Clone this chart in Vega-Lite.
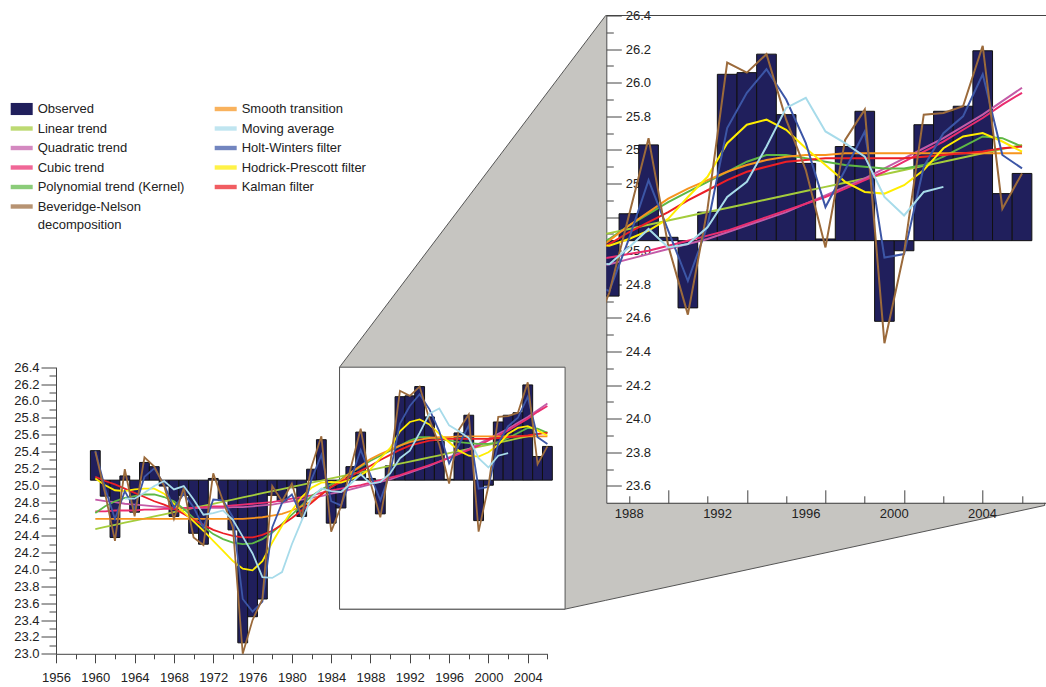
{
  "$schema": "https://vega.github.io/schema/vega-lite/v6.json",
  "background": "white",
  "padding": {"left": 10, "top": 9.5, "right": 0, "bottom": 0},
  "autosize": {"type": "pad"},
  "config": {
    "view": {"stroke": null},
    "font": "Liberation Sans",
    "axis": {"grid": false, "labelFont": "Liberation Sans", "labelFontSize": 13, "labelColor": "#222", "domainColor": "#444", "tickColor": "#444", "labelFlush": false, "labelOverlap": false}
  },
  "datasets": {
    "obs": [
      {"year":1960,"Observed":25.41,"Linear trend":24.48,"Quadratic trend":24.83,"Cubic trend":24.69,"Polynomial trend (Kernel)":24.67,"Beveridge-Nelson decomposition":25.40,"Smooth transition":24.60,"Holt-Winters filter":25.41,"Hodrick-Prescott filter":25.08,"Kalman filter":25.10},
      {"year":1961,"Observed":24.87,"Linear trend":24.505,"Quadratic trend":24.81,"Cubic trend":24.69,"Polynomial trend (Kernel)":24.75,"Beveridge-Nelson decomposition":24.90,"Smooth transition":24.60,"Holt-Winters filter":24.96,"Hodrick-Prescott filter":25.00,"Kalman filter":25.05},
      {"year":1962,"Observed":24.38,"Linear trend":24.53,"Quadratic trend":24.80,"Cubic trend":24.70,"Polynomial trend (Kernel)":24.81,"Beveridge-Nelson decomposition":24.34,"Smooth transition":24.60,"Holt-Winters filter":24.60,"Hodrick-Prescott filter":24.94,"Kalman filter":25.01},
      {"year":1963,"Observed":25.11,"Linear trend":24.555,"Quadratic trend":24.78,"Cubic trend":24.70,"Polynomial trend (Kernel)":24.85,"Beveridge-Nelson decomposition":25.19,"Smooth transition":24.60,"Moving average":24.84,"Holt-Winters filter":24.93,"Hodrick-Prescott filter":24.93,"Kalman filter":24.96},
      {"year":1964,"Observed":24.68,"Linear trend":24.58,"Quadratic trend":24.77,"Cubic trend":24.70,"Polynomial trend (Kernel)":24.87,"Beveridge-Nelson decomposition":24.63,"Smooth transition":24.60,"Moving average":24.84,"Holt-Winters filter":24.72,"Hodrick-Prescott filter":24.95,"Kalman filter":24.91},
      {"year":1965,"Observed":25.27,"Linear trend":24.605,"Quadratic trend":24.76,"Cubic trend":24.71,"Polynomial trend (Kernel)":24.89,"Beveridge-Nelson decomposition":25.33,"Smooth transition":24.60,"Moving average":24.91,"Holt-Winters filter":25.10,"Hodrick-Prescott filter":24.96,"Kalman filter":24.86},
      {"year":1966,"Observed":25.22,"Linear trend":24.63,"Quadratic trend":24.75,"Cubic trend":24.71,"Polynomial trend (Kernel)":24.89,"Beveridge-Nelson decomposition":25.22,"Smooth transition":24.60,"Moving average":24.99,"Holt-Winters filter":25.20,"Hodrick-Prescott filter":24.96,"Kalman filter":24.81},
      {"year":1967,"Observed":24.99,"Linear trend":24.655,"Quadratic trend":24.74,"Cubic trend":24.72,"Polynomial trend (Kernel)":24.86,"Beveridge-Nelson decomposition":24.99,"Smooth transition":24.60,"Moving average":25.05,"Holt-Winters filter":25.01,"Hodrick-Prescott filter":24.90,"Kalman filter":24.77},
      {"year":1968,"Observed":24.63,"Linear trend":24.68,"Quadratic trend":24.73,"Cubic trend":24.72,"Polynomial trend (Kernel)":24.81,"Beveridge-Nelson decomposition":24.60,"Smooth transition":24.60,"Moving average":24.95,"Holt-Winters filter":24.73,"Hodrick-Prescott filter":24.78,"Kalman filter":24.72},
      {"year":1969,"Observed":24.88,"Linear trend":24.705,"Quadratic trend":24.73,"Cubic trend":24.73,"Polynomial trend (Kernel)":24.72,"Beveridge-Nelson decomposition":24.97,"Smooth transition":24.60,"Moving average":24.99,"Holt-Winters filter":24.90,"Hodrick-Prescott filter":24.68,"Kalman filter":24.66},
      {"year":1970,"Observed":24.43,"Linear trend":24.73,"Quadratic trend":24.73,"Cubic trend":24.73,"Polynomial trend (Kernel)":24.61,"Beveridge-Nelson decomposition":24.38,"Smooth transition":24.60,"Moving average":24.83,"Holt-Winters filter":24.74,"Hodrick-Prescott filter":24.57,"Kalman filter":24.59},
      {"year":1971,"Observed":24.30,"Linear trend":24.755,"Quadratic trend":24.73,"Cubic trend":24.74,"Polynomial trend (Kernel)":24.51,"Beveridge-Nelson decomposition":24.29,"Smooth transition":24.60,"Moving average":24.65,"Holt-Winters filter":24.50,"Hodrick-Prescott filter":24.46,"Kalman filter":24.53},
      {"year":1972,"Observed":25.08,"Linear trend":24.78,"Quadratic trend":24.73,"Cubic trend":24.75,"Polynomial trend (Kernel)":24.42,"Beveridge-Nelson decomposition":25.14,"Smooth transition":24.60,"Moving average":24.67,"Holt-Winters filter":24.83,"Hodrick-Prescott filter":24.34,"Kalman filter":24.47},
      {"year":1973,"Observed":24.82,"Linear trend":24.805,"Quadratic trend":24.73,"Cubic trend":24.75,"Polynomial trend (Kernel)":24.36,"Beveridge-Nelson decomposition":24.81,"Smooth transition":24.60,"Moving average":24.70,"Holt-Winters filter":24.82,"Hodrick-Prescott filter":24.22,"Kalman filter":24.43},
      {"year":1974,"Observed":24.47,"Linear trend":24.83,"Quadratic trend":24.74,"Cubic trend":24.76,"Polynomial trend (Kernel)":24.32,"Beveridge-Nelson decomposition":24.50,"Smooth transition":24.60,"Moving average":24.59,"Holt-Winters filter":24.62,"Hodrick-Prescott filter":24.10,"Kalman filter":24.40},
      {"year":1975,"Observed":23.13,"Linear trend":24.855,"Quadratic trend":24.74,"Cubic trend":24.77,"Polynomial trend (Kernel)":24.30,"Beveridge-Nelson decomposition":23.00,"Smooth transition":24.60,"Moving average":24.39,"Holt-Winters filter":23.65,"Hodrick-Prescott filter":24.01,"Kalman filter":24.38},
      {"year":1976,"Observed":23.44,"Linear trend":24.88,"Quadratic trend":24.75,"Cubic trend":24.78,"Polynomial trend (Kernel)":24.31,"Beveridge-Nelson decomposition":23.40,"Smooth transition":24.61,"Moving average":24.19,"Holt-Winters filter":23.50,"Hodrick-Prescott filter":23.99,"Kalman filter":24.38},
      {"year":1977,"Observed":23.65,"Linear trend":24.905,"Quadratic trend":24.76,"Cubic trend":24.79,"Polynomial trend (Kernel)":24.36,"Beveridge-Nelson decomposition":23.65,"Smooth transition":24.62,"Moving average":23.91,"Holt-Winters filter":23.62,"Hodrick-Prescott filter":24.10,"Kalman filter":24.41},
      {"year":1978,"Observed":24.88,"Linear trend":24.93,"Quadratic trend":24.77,"Cubic trend":24.80,"Polynomial trend (Kernel)":24.44,"Beveridge-Nelson decomposition":24.99,"Smooth transition":24.64,"Moving average":23.90,"Holt-Winters filter":24.50,"Hodrick-Prescott filter":24.32,"Kalman filter":24.46},
      {"year":1979,"Observed":24.81,"Linear trend":24.955,"Quadratic trend":24.79,"Cubic trend":24.82,"Polynomial trend (Kernel)":24.54,"Beveridge-Nelson decomposition":24.81,"Smooth transition":24.66,"Moving average":23.97,"Holt-Winters filter":24.79,"Hodrick-Prescott filter":24.52,"Kalman filter":24.53},
      {"year":1980,"Observed":24.97,"Linear trend":24.98,"Quadratic trend":24.81,"Cubic trend":24.84,"Polynomial trend (Kernel)":24.65,"Beveridge-Nelson decomposition":25.02,"Smooth transition":24.70,"Moving average":24.30,"Holt-Winters filter":24.89,"Hodrick-Prescott filter":24.70,"Kalman filter":24.61},
      {"year":1981,"Observed":24.63,"Linear trend":25.005,"Quadratic trend":24.83,"Cubic trend":24.86,"Polynomial trend (Kernel)":24.76,"Beveridge-Nelson decomposition":24.62,"Smooth transition":24.75,"Moving average":24.58,"Holt-Winters filter":24.63,"Hodrick-Prescott filter":24.86,"Kalman filter":24.70},
      {"year":1982,"Observed":25.19,"Linear trend":25.03,"Quadratic trend":24.85,"Cubic trend":24.88,"Polynomial trend (Kernel)":24.87,"Beveridge-Nelson decomposition":25.22,"Smooth transition":24.81,"Moving average":24.85,"Holt-Winters filter":25.07,"Hodrick-Prescott filter":24.97,"Kalman filter":24.79},
      {"year":1983,"Observed":25.54,"Linear trend":25.055,"Quadratic trend":24.87,"Cubic trend":24.91,"Polynomial trend (Kernel)":24.95,"Beveridge-Nelson decomposition":25.58,"Smooth transition":24.89,"Moving average":24.96,"Holt-Winters filter":25.36,"Hodrick-Prescott filter":25.03,"Kalman filter":24.89},
      {"year":1984,"Observed":24.55,"Linear trend":25.08,"Quadratic trend":24.90,"Cubic trend":24.94,"Polynomial trend (Kernel)":25.01,"Beveridge-Nelson decomposition":24.45,"Smooth transition":24.98,"Moving average":24.93,"Holt-Winters filter":24.81,"Hodrick-Prescott filter":25.04,"Kalman filter":24.98},
      {"year":1985,"Observed":24.73,"Linear trend":25.105,"Quadratic trend":24.92,"Cubic trend":24.96,"Polynomial trend (Kernel)":25.07,"Beveridge-Nelson decomposition":24.75,"Smooth transition":25.06,"Moving average":24.92,"Holt-Winters filter":24.76,"Hodrick-Prescott filter":25.03,"Kalman filter":25.04},
      {"year":1986,"Observed":25.22,"Linear trend":25.13,"Quadratic trend":24.95,"Cubic trend":24.98,"Polynomial trend (Kernel)":25.15,"Beveridge-Nelson decomposition":25.21,"Smooth transition":25.15,"Moving average":25.02,"Holt-Winters filter":25.07,"Hodrick-Prescott filter":25.07,"Kalman filter":25.11},
      {"year":1987,"Observed":25.63,"Linear trend":25.155,"Quadratic trend":24.98,"Cubic trend":25.00,"Polynomial trend (Kernel)":25.22,"Beveridge-Nelson decomposition":25.67,"Smooth transition":25.23,"Moving average":25.13,"Holt-Winters filter":25.42,"Hodrick-Prescott filter":25.12,"Kalman filter":25.17},
      {"year":1988,"Observed":25.08,"Linear trend":25.18,"Quadratic trend":25.01,"Cubic trend":25.03,"Polynomial trend (Kernel)":25.29,"Beveridge-Nelson decomposition":25.03,"Smooth transition":25.31,"Moving average":25.02,"Holt-Winters filter":25.12,"Hodrick-Prescott filter":25.19,"Kalman filter":25.23},
      {"year":1989,"Observed":24.66,"Linear trend":25.205,"Quadratic trend":25.04,"Cubic trend":25.06,"Polynomial trend (Kernel)":25.35,"Beveridge-Nelson decomposition":24.62,"Smooth transition":25.37,"Moving average":25.04,"Holt-Winters filter":24.82,"Hodrick-Prescott filter":25.32,"Kalman filter":25.30},
      {"year":1990,"Observed":25.23,"Linear trend":25.23,"Quadratic trend":25.07,"Cubic trend":25.09,"Polynomial trend (Kernel)":25.41,"Beveridge-Nelson decomposition":25.25,"Smooth transition":25.42,"Moving average":25.14,"Holt-Winters filter":25.15,"Hodrick-Prescott filter":25.44,"Kalman filter":25.36},
      {"year":1991,"Observed":26.05,"Linear trend":25.255,"Quadratic trend":25.11,"Cubic trend":25.12,"Polynomial trend (Kernel)":25.47,"Beveridge-Nelson decomposition":26.12,"Smooth transition":25.47,"Moving average":25.32,"Holt-Winters filter":25.73,"Hodrick-Prescott filter":25.64,"Kalman filter":25.42},
      {"year":1992,"Observed":26.06,"Linear trend":25.28,"Quadratic trend":25.15,"Cubic trend":25.16,"Polynomial trend (Kernel)":25.53,"Beveridge-Nelson decomposition":26.06,"Smooth transition":25.51,"Moving average":25.41,"Holt-Winters filter":25.94,"Hodrick-Prescott filter":25.75,"Kalman filter":25.47},
      {"year":1993,"Observed":26.17,"Linear trend":25.305,"Quadratic trend":25.19,"Cubic trend":25.20,"Polynomial trend (Kernel)":25.57,"Beveridge-Nelson decomposition":26.17,"Smooth transition":25.54,"Moving average":25.62,"Holt-Winters filter":26.08,"Hodrick-Prescott filter":25.78,"Kalman filter":25.50},
      {"year":1994,"Observed":25.81,"Linear trend":25.33,"Quadratic trend":25.23,"Cubic trend":25.24,"Polynomial trend (Kernel)":25.57,"Beveridge-Nelson decomposition":25.78,"Smooth transition":25.56,"Moving average":25.85,"Holt-Winters filter":25.90,"Hodrick-Prescott filter":25.72,"Kalman filter":25.53},
      {"year":1995,"Observed":25.52,"Linear trend":25.355,"Quadratic trend":25.28,"Cubic trend":25.28,"Polynomial trend (Kernel)":25.55,"Beveridge-Nelson decomposition":25.48,"Smooth transition":25.57,"Moving average":25.91,"Holt-Winters filter":25.64,"Hodrick-Prescott filter":25.61,"Kalman filter":25.54},
      {"year":1996,"Observed":25.07,"Linear trend":25.38,"Quadratic trend":25.33,"Cubic trend":25.32,"Polynomial trend (Kernel)":25.53,"Beveridge-Nelson decomposition":25.02,"Smooth transition":25.57,"Moving average":25.71,"Holt-Winters filter":25.26,"Hodrick-Prescott filter":25.51,"Kalman filter":25.55},
      {"year":1997,"Observed":25.62,"Linear trend":25.405,"Quadratic trend":25.38,"Cubic trend":25.37,"Polynomial trend (Kernel)":25.51,"Beveridge-Nelson decomposition":25.66,"Smooth transition":25.58,"Moving average":25.64,"Holt-Winters filter":25.48,"Hodrick-Prescott filter":25.41,"Kalman filter":25.55},
      {"year":1998,"Observed":25.83,"Linear trend":25.43,"Quadratic trend":25.43,"Cubic trend":25.42,"Polynomial trend (Kernel)":25.50,"Beveridge-Nelson decomposition":25.84,"Smooth transition":25.58,"Moving average":25.56,"Holt-Winters filter":25.71,"Hodrick-Prescott filter":25.35,"Kalman filter":25.55},
      {"year":1999,"Observed":24.58,"Linear trend":25.455,"Quadratic trend":25.49,"Cubic trend":25.47,"Polynomial trend (Kernel)":25.49,"Beveridge-Nelson decomposition":24.45,"Smooth transition":25.58,"Moving average":25.32,"Holt-Winters filter":24.96,"Hodrick-Prescott filter":25.34,"Kalman filter":25.55},
      {"year":2000,"Observed":25.00,"Linear trend":25.48,"Quadratic trend":25.55,"Cubic trend":25.53,"Polynomial trend (Kernel)":25.49,"Beveridge-Nelson decomposition":24.99,"Smooth transition":25.58,"Moving average":25.21,"Holt-Winters filter":24.98,"Hodrick-Prescott filter":25.39,"Kalman filter":25.55},
      {"year":2001,"Observed":25.75,"Linear trend":25.505,"Quadratic trend":25.61,"Cubic trend":25.59,"Polynomial trend (Kernel)":25.51,"Beveridge-Nelson decomposition":25.81,"Smooth transition":25.58,"Moving average":25.35,"Holt-Winters filter":25.50,"Hodrick-Prescott filter":25.48,"Kalman filter":25.56},
      {"year":2002,"Observed":25.83,"Linear trend":25.53,"Quadratic trend":25.67,"Cubic trend":25.65,"Polynomial trend (Kernel)":25.56,"Beveridge-Nelson decomposition":25.82,"Smooth transition":25.58,"Moving average":25.38,"Holt-Winters filter":25.70,"Hodrick-Prescott filter":25.61,"Kalman filter":25.57},
      {"year":2003,"Observed":25.86,"Linear trend":25.555,"Quadratic trend":25.74,"Cubic trend":25.72,"Polynomial trend (Kernel)":25.62,"Beveridge-Nelson decomposition":25.86,"Smooth transition":25.58,"Holt-Winters filter":25.80,"Hodrick-Prescott filter":25.68,"Kalman filter":25.58},
      {"year":2004,"Observed":26.19,"Linear trend":25.58,"Quadratic trend":25.81,"Cubic trend":25.79,"Polynomial trend (Kernel)":25.68,"Beveridge-Nelson decomposition":26.22,"Smooth transition":25.58,"Holt-Winters filter":26.05,"Hodrick-Prescott filter":25.70,"Kalman filter":25.59},
      {"year":2005,"Observed":25.34,"Linear trend":25.605,"Quadratic trend":25.89,"Cubic trend":25.87,"Polynomial trend (Kernel)":25.67,"Beveridge-Nelson decomposition":25.25,"Smooth transition":25.58,"Holt-Winters filter":25.57,"Hodrick-Prescott filter":25.65,"Kalman filter":25.61},
      {"year":2006,"Observed":25.46,"Linear trend":25.63,"Quadratic trend":25.97,"Cubic trend":25.94,"Polynomial trend (Kernel)":25.62,"Beveridge-Nelson decomposition":25.46,"Smooth transition":25.58,"Holt-Winters filter":25.49,"Hodrick-Prescott filter":25.59,"Kalman filter":25.62}
    ],
    "connector": [
      {"x": 1984.85, "top": 26.4, "bottom": 23.53},
      {"x": 2007.8, "top": 29.936, "bottom": 23.53},
      {"x": 2011.93, "top": 30.572, "bottom": 23.634},
      {"x": 2056.6, "top": 30.572, "bottom": 24.76}
    ]
  },
  "bounds": "flush",
  "spacing": 58.3,
  "resolve": {"legend": {"color": "independent"}},
  "hconcat": [
    {
      "width": 491.4,
      "height": 638.3,
      "layer": [
        {
          "data": {"name": "connector"},
          "mark": {"type": "area", "fill": "#c6c5c1", "stroke": "#555", "strokeWidth": 1, "interpolate": "linear"},
          "encoding": {
            "x": {"field": "x", "type": "quantitative", "scale": {"domain": [1956, 2006], "nice": false, "zero": false, "padding": 0}, "axis": null},
            "y": {"field": "top", "type": "quantitative", "scale": {"domain": [23, 26.4], "range": [638.3, 351.7], "nice": false, "zero": false, "padding": 0}, "axis": null},
            "y2": {"field": "bottom"}
          }
        },
        {
          "data": {"values": [{}]},
          "mark": {"type": "rect", "fill": "white", "stroke": "#555", "strokeWidth": 1},
          "encoding": {
            "x": {"datum": 1984.85, "type": "quantitative", "axis": null},
            "x2": {"datum": 2007.8},
            "y": {"datum": 23.53, "type": "quantitative", "axis": null},
            "y2": {"datum": 26.4}
          }
        },
        {
          "data": {"name": "obs"},
          "mark": {"type": "bar", "width": 9.83, "fill": "#201f5c", "stroke": "#111", "strokeWidth": 1},
          "encoding": {
            "x": {"field": "year", "type": "quantitative", "scale": {"domain": [1956, 2006], "nice": false, "zero": false, "padding": 0},
                  "axis": {"orient": "bottom", "title": null, "values": [1956,1960,1964,1968,1972,1976,1980,1984,1988,1992,1996,2000,2004], "format": "d", "tickSize": 9, "labelPadding": 9}},
            "y": {"field": "Observed", "type": "quantitative",
                  "axis": {"orient": "left", "title": null, "values": [23,23.2,23.4,23.6,23.8,24,24.2,24.4,24.6,24.8,25,25.2,25.4,25.6,25.8,26,26.2,26.4], "format": ".1f", "tickSize": 15, "labelPadding": 2}},
            "y2": {"datum": 25.06}
          }
        },
        {
          "data": {"name": "obs"},
          "transform": [
            {"fold": ["Linear trend","Quadratic trend","Cubic trend","Polynomial trend (Kernel)","Smooth transition","Moving average","Kalman filter","Hodrick-Prescott filter","Holt-Winters filter","Beveridge-Nelson decomposition"], "as": ["series", "value"]},
            {"filter": "isValid(datum.value)"}
          ],
          "mark": {"type": "line", "strokeWidth": 1.8, "interpolate": "linear"},
          "encoding": {
            "x": {"field": "year", "type": "quantitative",
                  "axis": {"orient": "bottom", "title": null, "values": [1958,1962,1966,1970,1974,1978,1982,1986,1990,1994,1998,2002,2006], "tickSize": 5, "labels": false, "domain": false}},
            "y": {"field": "value", "type": "quantitative",
                  "axis": {"orient": "left", "title": null, "values": [23.1,23.3,23.5,23.7,23.9,24.1,24.3,24.5,24.7,24.9,25.1,25.3,25.5,25.7,25.9,26.1,26.3], "tickSize": 7, "labels": false, "domain": false}},
            "color": {
              "field": "series", "type": "nominal",
              "scale": {
                "domain": ["Observed","Linear trend","Quadratic trend","Cubic trend","Polynomial trend (Kernel)","Beveridge-Nelson decomposition","Smooth transition","Moving average","Holt-Winters filter","Hodrick-Prescott filter","Kalman filter"],
                "range": ["#201f5c","#a4cc3c","#c35ba7","#ea2d6f","#5eb845","#9b6a3b","#f7941e","#a7dbea","#3c56a6","#ffed00","#ec1f26"]
              },
              "legend": {
                "orient": "none", "legendX": -45.3, "legendY": 82.5,
                "title": null, "columns": 2, "columnPadding": 30, "rowPadding": 1.5, "padding": 0,
                "symbolType": "M-1,-0.2H1V0.2H-1Z", "symbolSize": 484, "symbolStrokeWidth": 0,
                "labelFont": "Liberation Sans", "labelFontSize": 13, "labelColor": "#222", "labelOffset": 5, "labelLimit": 300,
                "labelExpr": "datum.label == 'Beveridge-Nelson decomposition' ? ['Beveridge-Nelson', 'decomposition'] : datum.label",
                "encode": {
                  "symbols": {"update": {
                    "shape": {"signal": "datum.value == 'Observed' ? 'M-1,-0.55H1V0.55H-1Z' : 'M-1,-0.2H1V0.2H-1Z'"},
                    "fill": {"scale": "color", "field": "value"},
                    "stroke": {"value": "transparent"},
                    "strokeWidth": {"value": 0},
                    "opacity": {"signal": "datum.value == 'Observed' ? 1 : 0.72"}
                  }},
                  "labels": {"update": {
                    "lineHeight": {"signal": "datum.value == 'Beveridge-Nelson decomposition' ? 18 : 13"}
                  }}
                }
              }
            }
          }
        }
      ],
      "resolve": {"axis": {"x": "independent", "y": "independent"}}
    },
    {
      "width": 440,
      "height": 487.3,
      "view": {"fill": "white", "stroke": null},
      "layer": [
        {
          "data": {"name": "obs"},
          "mark": {"type": "bar", "width": 19.66, "fill": "#201f5c", "stroke": "#111", "strokeWidth": 1, "clip": true},
          "encoding": {
            "x": {"field": "year", "type": "quantitative", "scale": {"domain": [1984.85, 2007.235], "nice": false, "zero": false, "padding": 0},
                  "axis": {"orient": "bottom", "title": null, "values": [1988,1992,1996,2000,2004], "tickSize": -13, "labels": false}},
            "y": {"field": "Observed", "type": "quantitative", "scale": {"domain": [23.5, 26.4], "nice": false, "zero": false, "padding": 0},
                  "axis": {"orient": "left", "title": null, "values": [23.6,23.8,24,24.2,24.4,24.6,24.8,25,25.2,25.4,25.6,25.8,26,26.2,26.4], "format": ".1f", "tickSize": -15, "labelAlign": "left", "labelPadding": -4}},
            "y2": {"datum": 25.06}
          }
        },
        {
          "data": {"name": "obs"},
          "transform": [
            {"fold": ["Linear trend","Quadratic trend","Cubic trend","Polynomial trend (Kernel)","Smooth transition","Moving average","Kalman filter","Hodrick-Prescott filter","Holt-Winters filter","Beveridge-Nelson decomposition"], "as": ["series", "value"]},
            {"filter": "isValid(datum.value)"}
          ],
          "mark": {"type": "line", "strokeWidth": 2, "interpolate": "linear", "clip": true},
          "encoding": {
            "x": {"field": "year", "type": "quantitative", "scale": {"domain": [1984.85, 2007.235], "nice": false, "zero": false, "padding": 0},
                  "axis": {"orient": "bottom", "title": null, "values": [1986,1990,1994,1998,2002,2006], "tickSize": -7, "labels": false, "domain": false}},
            "y": {"field": "value", "type": "quantitative",
                  "axis": {"orient": "left", "title": null, "values": [23.7,23.9,24.1,24.3,24.5,24.7,24.9,25.1,25.3,25.5,25.7,25.9,26.1,26.3], "tickSize": -7, "labels": false, "domain": false}},
            "color": {"field": "series", "type": "nominal", "legend": null}
          }
        },
        {
          "data": {"name": "obs"},
          "transform": [{"filter": "datum.year == 1996"}],
          "mark": {"type": "point", "opacity": 0, "clip": true},
          "encoding": {
            "x": {"field": "year", "type": "quantitative", "scale": {"domain": [1986.981, 2006.913], "nice": false, "zero": false, "padding": 0},
                  "axis": {"orient": "bottom", "title": null, "values": [1988,1992,1996,2000,2004], "format": "d", "ticks": false, "tickSize": 0, "domain": false, "labelPadding": 5}}
          }
        },
        {
          "data": {"values": [{}]},
          "mark": {"type": "rule", "color": "#444", "strokeWidth": 1},
          "encoding": {
            "y": {"datum": 26.4, "type": "quantitative", "axis": null}
          }
        }
      ],
      "resolve": {"scale": {"x": "independent"}, "axis": {"x": "independent", "y": "independent"}}
    }
  ]
}
